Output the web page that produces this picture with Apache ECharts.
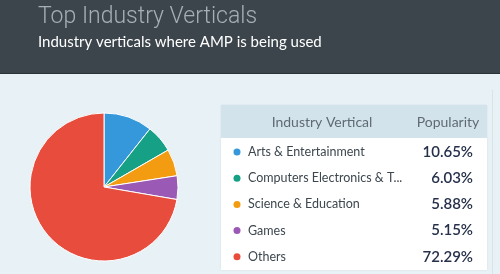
<!DOCTYPE html>
<html><head><meta charset="utf-8">
<script src="https://cdn.jsdelivr.net/npm/echarts@6/dist/echarts.min.js"></script>
<style>html,body{margin:0;padding:0;background:#e8f1f6;}#c{width:500px;height:274px;}</style>
</head><body><div id="c"></div>
<script>
var categories = ['Arts & Entertainment', 'Computers Electronics & T...', 'Science & Education', 'Games', 'Others'];
var values = [10.65, 6.03, 5.88, 5.15, 72.29];
var valueLabels = ['10.65%', '6.03%', '5.88%', '5.15%', '72.29%'];
var colors = ['#3498db', '#16a085', '#f39c12', '#9b59b6', '#e74c3c'];
var titleText = 'Top Industry Verticals';
var subtitleText = 'Industry verticals where AMP is being used';
var headers = ['Industry Vertical', 'Popularity'];

var font = 'Lato, "Open Sans", sans-serif';
var chart = echarts.init(document.getElementById('c'));
var g = [
  {type:'rect', shape:{x:0,y:0,width:500,height:74}, style:{fill:'#3c454c'}, z:0},
  {type:'rect', shape:{x:0,y:73,width:500,height:1}, style:{fill:'#2b3237'}, z:1},
  {type:'text', x:38, y:17, style:{text:titleText, fill:'#a4afb6', font:'300 23px Roboto, sans-serif', verticalAlign:'middle'}},
  {type:'text', left:38, top:35, style:{text:subtitleText, fill:'#ffffff', font:'400 15px ' + font}},
  {type:'rect', shape:{x:492,y:90,width:1,height:184}, style:{fill:'#d8e3ea'}},
  {type:'rect', shape:{x:221,y:105,width:266,height:165}, style:{fill:'#ffffff', shadowBlur:2, shadowColor:'rgba(0,0,0,0.08)'}},
  {type:'rect', shape:{x:221,y:105,width:266,height:33}, style:{fill:'#d3e3ec'}},
  {type:'text', x:322, y:122, style:{text:headers[0], fill:'#5f6b73', font:'400 14px ' + font, align:'center', verticalAlign:'middle'}},
  {type:'text', x:448, y:122, style:{text:headers[1], fill:'#5f6b73', font:'400 14px ' + font, align:'center', verticalAlign:'middle'}}
];
categories.forEach(function(name, i){
  var y = 152 + i * 26.2;
  g.push({type:'circle', shape:{cx:237, cy:y, r:3.5}, style:{fill:colors[i]}});
  g.push({type:'text', x:248, y:y, style:{text:name, fill:'#3d474e', font:'400 12.5px ' + font, verticalAlign:'middle'}});
  g.push({type:'text', x:473, y:y, style:{text:valueLabels[i], fill:'#26304a', font:'600 15px ' + font, align:'right', verticalAlign:'middle'}});
});
chart.setOption({
  animation:false,
  color: colors,
  graphic: g,
  series:[{
    type:'pie', center:[104,187], radius:[0,74], startAngle:90, clockwise:true,
    label:{show:false}, labelLine:{show:false},
    itemStyle:{borderColor:'#ffffff', borderWidth:1},
    data: categories.map(function(n,i){return {name:n, value:values[i]};})
  }]
});
</script></body></html>
